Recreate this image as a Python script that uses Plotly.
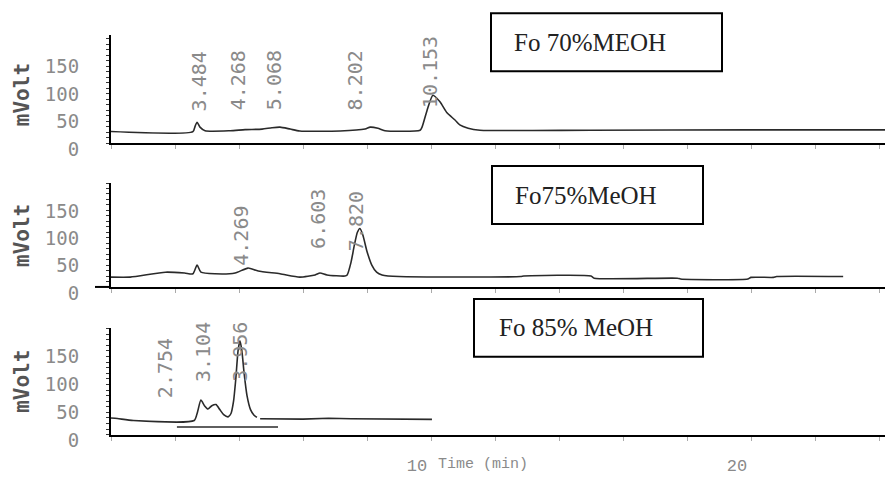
import plotly.graph_objects as go

# ---------------- data ----------------
# Panel 1 : Fo 70% MEOH
top_t = [0, 2.56, 2.63, 2.69, 2.78, 2.94, 3.72, 4.19, 4.72, 5.03, 5.28, 5.60, 5.90, 7.16,
         7.94, 8.10, 8.34, 8.56, 9.66, 9.72, 9.90, 10.06, 10.28, 10.50, 10.75, 10.90, 11.16,
         11.53, 15.0, 20.0, 24.44]
top_mv = [21, 21, 31, 38, 29, 22.5, 22.5, 24.5, 25.5, 28, 29, 25.5, 22, 22,
          25.5, 29, 27, 22.5, 23.5, 29, 64, 87, 75, 55, 42, 33, 27,
          23.5, 23.5, 24, 24]
top_labels = ["3.484", "4.268", "5.068", "8.202", "10.153"]
top_label_t = [2.75, 3.97, 5.09, 7.63, 9.97]
top_label_mv = [54, 56, 56, 56, 60]

# Panel 2 : Fo 75% MeOH
mid_t = [0, 0.6, 1.7, 2.3, 2.56, 2.69, 2.81, 3.25, 3.88, 4.28, 4.60, 5.28, 5.90, 6.38, 6.53,
         6.75, 7.31, 7.38, 7.50, 7.60, 7.70, 7.78, 7.87, 8.00, 8.15, 8.30, 8.47, 9.0,
         12.8, 12.9, 15.0, 15.1, 17.7, 17.8, 19.9, 20.0, 20.7, 20.8, 22.88]
mid_mv = [18, 18, 27, 25.5, 24, 40, 27, 24, 25.5, 34.5, 29, 24, 18, 22, 25.5,
          22, 20, 22, 45, 75, 100, 107, 95, 65, 40, 27, 22, 19,
          19, 20, 20, 16, 16, 14.5, 14.5, 17.5, 17.5, 19, 19]
mid_labels = ["4.269", "6.603", "7.820"]
mid_label_t = [4.06, 6.47, 7.66]
mid_label_mv = [35, 66, 62]

# Panel 3 : Fo 85% MeOH
bot_t1 = [0, 0.2, 0.7, 2.60, 2.70, 2.81, 2.92, 3.03, 3.15, 3.28, 3.40, 3.52, 3.66, 3.75,
          3.83, 3.90, 3.97, 4.03, 4.09, 4.16, 4.25, 4.36, 4.47, 4.56]
bot_mv1 = [30, 29, 25.5, 25.5, 40, 62, 52, 46, 52, 54, 45, 36, 32, 38,
           60, 100, 150, 168, 150, 110, 70, 45, 35, 31]
bot_t2 = [4.66, 6.0, 6.8, 7.5, 10.03]
bot_mv2 = [28.5, 28, 29.5, 28.5, 27.5]
bot_base_t = [2.06, 5.22]
bot_base_mv = [14, 14]
bot_labels = ["2.754", "3.104", "3.956"]
bot_label_t = [1.69, 2.88, 4.03]
bot_label_mv = [62, 91, 91]

panel_names = ["Fo 70%MEOH", "Fo75%MeOH", "Fo 85% MeOH"]
y_ticks = [0, 50, 100, 150]
x_ticks = list(range(0, 25, 2))
x_ticktext = ["10" if v == 10 else ("20" if v == 20 else "") for v in x_ticks]

# ---------------- layout geometry ----------------
OFF = 8                 # page body margin
K = 494.0 / 477.0       # vertical factor between page pixels and the photographed picture
W = 893 - 2 * OFF
H = 478
def py(p):  # reference pixel row -> paper
    return 1 - (p * K - OFF) / H
def px(p):
    return (p - OFF) / W

x_dom = [px(111), 1.0]
x_range = [0, (W + OFF - 111) / 32.0]
panels = [
    dict(dom=[py(143), py(35)], yr=[0, 196], box=(491, 722, 13, 71), tx=512, lab_y=95),
    dict(dom=[py(287), py(183)], yr=[0, 190], box=(492, 703, 166, 224), tx=513, lab_y=236),
    dict(dom=[py(435), py(328)], yr=[0, 191], box=(474, 703, 299, 357), tx=497, lab_y=382),
]

LINE = "#2a2a2a"
GRAY = "#8a8a8a"

fig = go.Figure()
spl = dict(shape="spline", smoothing=0.6, color=LINE, width=1.6)
fig.add_trace(go.Scatter(x=top_t, y=top_mv, mode="lines", line=spl, xaxis="x", yaxis="y"))
fig.add_trace(go.Scatter(x=mid_t, y=mid_mv, mode="lines", line=spl, xaxis="x2", yaxis="y2"))
fig.add_trace(go.Scatter(x=bot_t1, y=bot_mv1, mode="lines", line=spl, xaxis="x3", yaxis="y3"))
fig.add_trace(go.Scatter(x=bot_t2, y=bot_mv2, mode="lines", line=dict(color=LINE, width=1.6),
                         xaxis="x3", yaxis="y3"))
fig.add_trace(go.Scatter(x=bot_base_t, y=bot_base_mv, mode="lines", line=dict(color=LINE, width=1.4),
                         xaxis="x3", yaxis="y3"))

layout = dict(width=W, height=H, margin=dict(l=0, r=0, t=0, b=0),
              paper_bgcolor="white", plot_bgcolor="white", showlegend=False)

annotations = []
shapes = []
for i, p in enumerate(panels):
    sfx = "" if i == 0 else str(i + 1)
    xa = dict(domain=x_dom, range=x_range, anchor="y" + sfx, showgrid=False, zeroline=False,
              showline=True, linecolor="black", linewidth=2,
              tickmode="array", tickvals=x_ticks, ticktext=x_ticktext,
              ticks="outside", ticklen=4, tickcolor="#aaaaaa", tickwidth=1,
              showticklabels=(i == 2),
              tickfont=dict(family="Liberation Mono", size=17, color=GRAY),
              ticklabelshift=-14, ticklabelstandoff=10)
    ya = dict(domain=p["dom"], range=p["yr"], anchor="x" + sfx, showgrid=False, zeroline=False,
              showline=True, linecolor="black", linewidth=2,
              tickmode="array", tickvals=y_ticks,
              ticks="outside", ticklen=26, tickcolor="rgba(0,0,0,0)", tickwidth=1,
              minor=dict(dtick=10, ticks="outside", ticklen=3, tickcolor="#333333"),
              tickfont=dict(family="DejaVu Sans Mono", size=19, color=GRAY),
              ticklabelshift=6)
    layout["xaxis" + sfx] = xa
    layout["yaxis" + sfx] = ya

    annotations.append(dict(text="<b>mVolt</b>", textangle=-90, xref="paper", yref="paper",
                            x=px(22), y=py(p["lab_y"]), showarrow=False,
                            xanchor="center", yanchor="middle",
                            font=dict(family="DejaVu Sans Mono", size=21, color="#555555")))
    x0, x1, y0, y1 = p["box"]
    shapes.append(dict(type="rect", xref="paper", yref="paper", x0=px(x0), x1=px(x1),
                       y0=py(y1), y1=py(y0), line=dict(color="black", width=2)))
    annotations.append(dict(text=panel_names[i], xref="paper", yref="paper",
                            x=px(p["tx"]), y=py((y0 + y1) / 2), showarrow=False,
                            xanchor="left", yanchor="middle",
                            font=dict(family="Liberation Serif", size=25, color="#222222")))

# the middle panel's time axis line runs a little left of its mVolt axis
shapes.append(dict(type="line", xref="paper", yref="paper", x0=px(95), x1=px(111),
                   y0=py(287), y1=py(287), line=dict(color="black", width=2)))

for k, (labs, ts, mvs) in enumerate([(top_labels, top_label_t, top_label_mv),
                                      (mid_labels, mid_label_t, mid_label_mv),
                                      (bot_labels, bot_label_t, bot_label_mv)]):
    sfx = "" if k == 0 else str(k + 1)
    for lab, t, mv in zip(labs, ts, mvs):
        annotations.append(dict(text=lab, textangle=-90, x=t, y=mv, xref="x" + sfx, yref="y" + sfx,
                                showarrow=False, xanchor="center", yanchor="bottom",
                                font=dict(family="DejaVu Sans Mono", size=20, color=GRAY)))

annotations.append(dict(text="Time (min)", xref="paper", yref="paper", x=px(436), y=py(465),
                        showarrow=False, xanchor="left", yanchor="middle",
                        font=dict(family="Liberation Mono", size=15, color=GRAY)))

layout["annotations"] = annotations
layout["shapes"] = shapes
fig.update_layout(**layout)
fig.write_html("out.html", config={"displayModeBar": False})
